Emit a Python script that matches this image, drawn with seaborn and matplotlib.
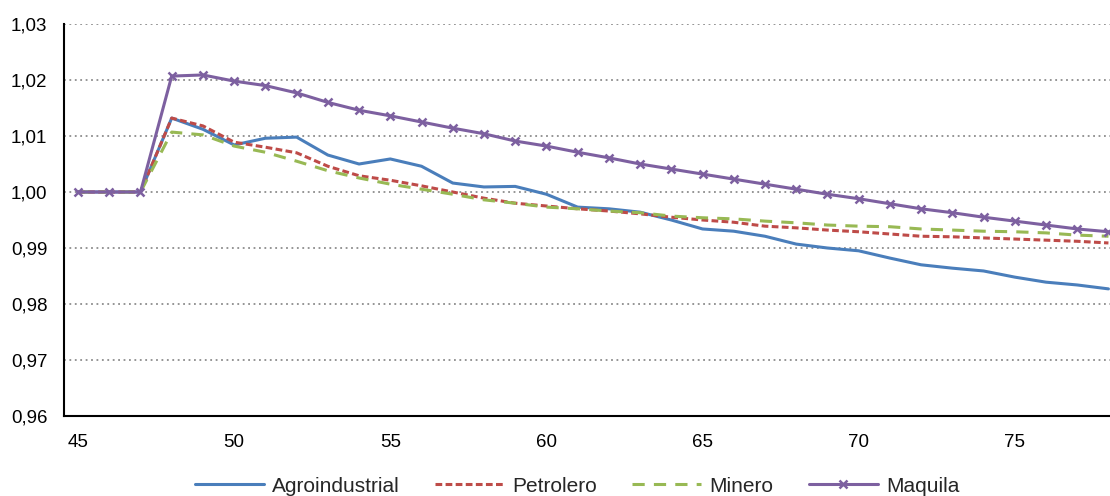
import numpy as np
import pandas as pd
import matplotlib
matplotlib.use("Agg")
import matplotlib.pyplot as plt
import seaborn as sns
from matplotlib.ticker import FuncFormatter, MultipleLocator

ages = list(range(45, 79))

agroindustrial = [1.0, 1.0, 1.0, 1.0132, 1.0112, 1.0084, 1.0096, 1.0098, 1.0066, 1.0050,
                  1.0059, 1.0046, 1.0016, 1.0009, 1.0010, 0.9996, 0.9973, 0.9970, 0.9964, 0.9950,
                  0.9934, 0.9930, 0.9921, 0.9907, 0.9900, 0.9895, 0.9882, 0.9870, 0.9864, 0.9859,
                  0.9848, 0.9839, 0.9834, 0.9827]
petrolero = [1.0, 1.0, 1.0, 1.0132, 1.0118, 1.0089, 1.0080, 1.0070, 1.0046, 1.0029,
             1.0021, 1.0011, 1.0000, 0.9989, 0.9980, 0.9975, 0.9970, 0.9966, 0.9961, 0.9955,
             0.9950, 0.9946, 0.9939, 0.9936, 0.9932, 0.9929, 0.9925, 0.9921, 0.9920, 0.9918,
             0.9916, 0.9914, 0.9912, 0.9909]
minero = [1.0, 1.0, 1.0, 1.0107, 1.0102, 1.0082, 1.0071, 1.0055, 1.0038, 1.0025,
          1.0014, 1.0005, 0.9996, 0.9986, 0.9980, 0.9973, 0.9970, 0.9966, 0.9963, 0.9957,
          0.9954, 0.9952, 0.9948, 0.9945, 0.9941, 0.9939, 0.9938, 0.9934, 0.9932, 0.9930,
          0.9929, 0.9927, 0.9923, 0.9921]
maquila = [1.0, 1.0, 1.0, 1.0207, 1.0209, 1.0198, 1.0190, 1.0177, 1.0160, 1.0146,
           1.0136, 1.0125, 1.0114, 1.0104, 1.0091, 1.0082, 1.0071, 1.0061, 1.0050, 1.0041,
           1.0032, 1.0023, 1.0014, 1.0005, 0.9996, 0.9988, 0.9979, 0.9970, 0.9963, 0.9955,
           0.9948, 0.9941, 0.9934, 0.9929]

series_names = ["Agroindustrial", "Petrolero", "Minero", "Maquila"]
colors = ["#4a7ebb", "#be4b48", "#98b954", "#7d60a0"]

sns.set_theme(style="white")
plt.rcParams['font.family'] = ['Liberation Sans', 'DejaVu Sans']

df = pd.DataFrame({"age": ages, "Agroindustrial": agroindustrial, "Petrolero": petrolero,
                   "Minero": minero, "Maquila": maquila})
long = df.melt(id_vars="age", var_name="serie", value_name="valor")

fig = plt.figure(figsize=(11.1, 4.96), dpi=100)
ax = fig.add_axes([64 / 1110, 1 - 416 / 496, 1 - 64 / 1110, (416 - 24) / 496])

styles = {
    "Agroindustrial": dict(linestyle="-", marker=None),
    "Petrolero": dict(linestyle=(0, (2.2, 1.1)), marker=None),
    "Minero": dict(linestyle=(0, (4, 3)), marker=None),
    "Maquila": dict(linestyle="-", marker="x"),
}

for name, col in zip(series_names, colors):
    sub = long[long["serie"] == name]
    st = styles[name]
    sns.lineplot(data=sub, x="age", y="valor", ax=ax, color=col, linewidth=2.2,
                 linestyle=st["linestyle"], marker=st["marker"], markersize=8,
                 markeredgewidth=1.8, markeredgecolor=col, label=name, zorder=3)

ax.set_xlim(44.55, 78.05)
ax.set_ylim(0.96, 1.03)
ax.yaxis.set_major_locator(MultipleLocator(0.01))
ax.xaxis.set_major_locator(MultipleLocator(5))
ax.yaxis.set_major_formatter(FuncFormatter(lambda v, p: f"{v:.2f}".replace(".", ",")))
ax.xaxis.set_major_formatter(FuncFormatter(lambda v, p: f"{int(round(v))}"))

ax.grid(axis="y", color="#8c8c8c", linestyle=(0, (1, 2)), linewidth=1.3)
ax.grid(axis="x", visible=False)
for s in ["top", "right"]:
    ax.spines[s].set_visible(False)
for s in ["left", "bottom"]:
    ax.spines[s].set_color("black")
    ax.spines[s].set_linewidth(1.5)
ax.tick_params(axis="both", length=0, labelsize=13.5, colors="black")
ax.tick_params(axis="y", pad=12)
ax.tick_params(axis="x", pad=13)
ax.set_xlabel("")
ax.set_ylabel("")

handles, labels = ax.get_legend_handles_labels()
ax.get_legend().remove()
for h in handles:
    h.set_markersize(6)
fig.legend(handles, labels, loc="center", bbox_to_anchor=(577 / 1110, 1 - 486 / 496), ncol=4,
           frameon=False, fontsize=15, handlelength=3.3, columnspacing=1.7, handletextpad=0.4)

fig.savefig("out.png", dpi=100)
